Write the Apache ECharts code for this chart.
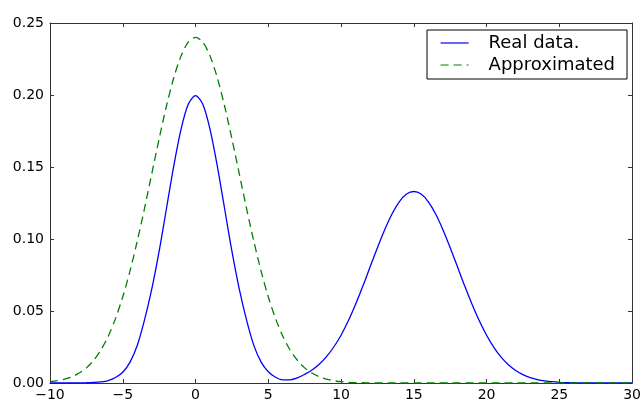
<!DOCTYPE html>
<html>
<head>
<meta charset="utf-8">
<script src="https://cdn.jsdelivr.net/npm/echarts@6.0.0/dist/echarts.min.js"></script>
<style>
  html, body { margin: 0; padding: 0; background: #fff; }
  #main { width: 644px; height: 402px; }
</style>
</head>
<body>
<div id="main"></div>
<script>
// sample positions along x (step 0.5)
var xs = [-10, -9.5, -9, -8.5, -8, -7.5, -7, -6.5, -6, -5.5, -5, -4.5, -4, -3.5, -3, -2.5, -2, -1.5, -1, -0.5,
  0, 0.5, 1, 1.5, 2, 2.5, 3, 3.5, 4, 4.5, 5, 5.5, 6, 6.5, 7, 7.5, 8, 8.5, 9, 9.5,
  10, 10.5, 11, 11.5, 12, 12.5, 13, 13.5, 14, 14.5, 15, 15.5, 16, 16.5, 17, 17.5, 18, 18.5, 19, 19.5,
  20, 20.5, 21, 21.5, 22, 22.5, 23, 23.5, 24, 24.5, 25, 25.5, 26, 26.5, 27, 27.5, 28, 28.5, 29, 29.5, 30];

// "Real data."
var realData = [0, 0, 0, 0, 0.0001, 0.0002, 0.0004, 0.0008, 0.0017, 0.0038, 0.0075, 0.0145, 0.0262, 0.0440, 0.0655, 0.0915, 0.1210, 0.1505, 0.1760, 0.1935,
  0.1995, 0.1935, 0.1760, 0.1505, 0.1210, 0.0915, 0.0655, 0.0440, 0.0263, 0.0147, 0.0078, 0.0040, 0.0022, 0.0022, 0.0035, 0.0060, 0.0090, 0.0130, 0.0183, 0.0250,
  0.0332, 0.0432, 0.0547, 0.0673, 0.0807, 0.0940, 0.1065, 0.1174, 0.1258, 0.1312, 0.1330, 0.1312, 0.1258, 0.1174, 0.1065, 0.0940, 0.0807, 0.0673, 0.0547, 0.0432,
  0.0332, 0.0248, 0.0180, 0.0127, 0.0087, 0.0058, 0.0038, 0.0024, 0.0015, 0.0009, 0.0005, 0.0003, 0.0002, 0.0001, 0, 0, 0, 0, 0, 0, 0];

// "Approximated"
var approxData = [0.0009, 0.0016, 0.0027, 0.0043, 0.0069, 0.0105, 0.0158, 0.0229, 0.0325, 0.0447, 0.0599, 0.0779, 0.0987, 0.1215, 0.1456, 0.1696, 0.1922, 0.2118, 0.2270, 0.2367,
  0.2400, 0.2367, 0.2270, 0.2118, 0.1922, 0.1696, 0.1456, 0.1215, 0.0987, 0.0779, 0.0599, 0.0447, 0.0325, 0.0229, 0.0158, 0.0105, 0.0069, 0.0043, 0.0027, 0.0016,
  0.0009, 0.0005, 0.0003, 0.0002, 0.0001, 0, 0, 0, 0, 0, 0, 0, 0, 0, 0, 0, 0, 0, 0, 0,
  0, 0, 0, 0, 0, 0, 0, 0, 0, 0, 0, 0, 0, 0, 0, 0, 0, 0, 0, 0, 0];

var seriesNames = ['Real data.', 'Approximated'];

function pairs(ys) {
  return xs.map(function (x, i) { return [x, ys[i]]; });
}

var font = 'DejaVu Sans';
var axisColor = '#333';

var chart = echarts.init(document.getElementById('main'));
chart.setOption({
  animation: false,
  backgroundColor: '#fff',
  textStyle: { fontFamily: font },
  grid: { left: 50, right: 7, top: 23, bottom: 17 },
  legend: {
    data: seriesNames,
    orient: 'vertical',
    left: 427,
    top: 30,
    padding: [4, 12, 5, 13],
    itemGap: 4,
    itemWidth: 28,
    itemHeight: 14,
    borderColor: '#000',
    borderWidth: 1,
    borderRadius: 0,
    itemStyle: { opacity: 0 },
    lineStyle: { width: 1.2 },
    textStyle: { fontFamily: font, fontSize: 18, color: '#000', padding: [0, 0, 0, 15] }
  },
  xAxis: [{
    type: 'value', min: -10, max: 30, interval: 5,
    splitLine: { show: false },
    axisLine: { onZero: false, lineStyle: { color: axisColor, width: 1 } },
    axisTick: { inside: true, length: 4, lineStyle: { color: axisColor } },
    axisLabel: {
      margin: 5, fontSize: 14, color: '#000', fontFamily: font,
      formatter: function (v) { return String(v).replace('-', '\u2212'); }
    }
  }, {
    type: 'value', min: -10, max: 30, interval: 5, position: 'top',
    splitLine: { show: false },
    axisLine: { onZero: false, lineStyle: { color: axisColor, width: 1 } },
    axisTick: { inside: true, length: 4, lineStyle: { color: axisColor } },
    axisLabel: { show: false }
  }],
  yAxis: [{
    type: 'value', min: 0, max: 0.25, interval: 0.05,
    splitLine: { show: false },
    axisLine: { show: true, onZero: false, lineStyle: { color: axisColor, width: 1 } },
    axisTick: { show: true, inside: true, length: 4, lineStyle: { color: axisColor } },
    axisLabel: {
      margin: 6, fontSize: 14, color: '#000', fontFamily: font,
      formatter: function (v) { return v.toFixed(2); }
    }
  }, {
    type: 'value', min: 0, max: 0.25, interval: 0.05, position: 'right',
    splitLine: { show: false },
    axisLine: { show: true, onZero: false, lineStyle: { color: axisColor, width: 1 } },
    axisTick: { show: true, inside: true, length: 4, lineStyle: { color: axisColor } },
    axisLabel: { show: false }
  }],
  series: [{
    name: seriesNames[0],
    type: 'line',
    data: pairs(realData),
    symbol: 'none',
    smooth: 0.3,
    color: '#0000ff',
    lineStyle: { color: '#0000ff', width: 1.3 }
  }, {
    name: seriesNames[1],
    type: 'line',
    data: pairs(approxData),
    symbol: 'none',
    smooth: 0.3,
    color: '#008000',
    lineStyle: { color: '#008000', width: 1.3, type: [8, 5] }
  }]
});
</script>
</body>
</html>
